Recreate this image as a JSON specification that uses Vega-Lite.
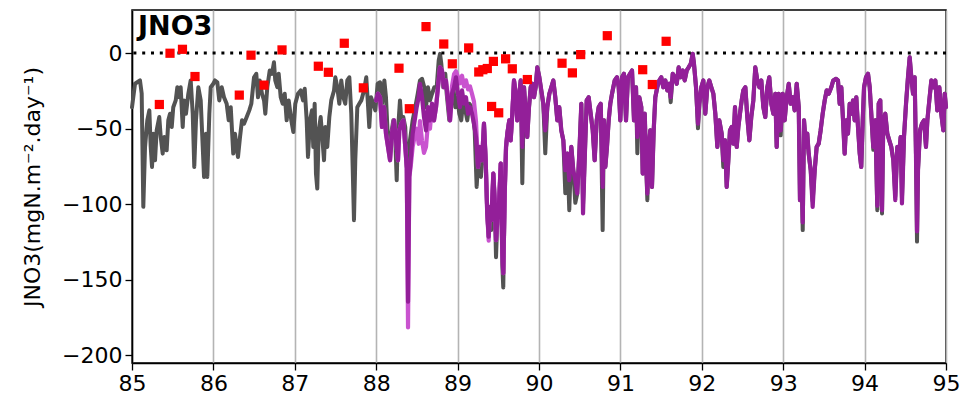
{
  "$schema": "https://vega.github.io/schema/vega-lite/v6.json",
  "width": 814,
  "height": 353,
  "autosize": {"type": "none"},
  "padding": {"left": 132, "top": 10, "right": 15, "bottom": 41},
  "config": {
    "font": "DejaVu Sans",
    "view": {"stroke": "black", "strokeWidth": 1.5},
    "axis": {
      "labelFont": "DejaVu Sans",
      "labelFontSize": 22,
      "labelColor": "black",
      "tickColor": "black",
      "tickSize": 7,
      "tickWidth": 1.3,
      "domainColor": "black",
      "domainWidth": 1.5,
      "titleFont": "DejaVu Sans",
      "titleFontWeight": "normal",
      "titleColor": "black"
    }
  },
  "datasets": {
    "series": [
      {"t":85.0,"g":-35.8},{"t":85.037,"g":-20.3},{"t":85.098,"g":-18.1},{"t":85.119,"g":-26.7},{"t":85.139,"g":-101.7},{"t":85.16,"g":-62.1},{"t":85.188,"g":-44.5},{"t":85.213,"g":-37.9},{"t":85.23,"g":-62.1},{"t":85.246,"g":-75.3},{"t":85.262,"g":-53.3},{"t":85.283,"g":-70.9},{"t":85.303,"g":-51.1},{"t":85.335,"g":-42.3},{"t":85.353,"g":-55.5},{"t":85.377,"g":-66.5},{"t":85.397,"g":-55.5},{"t":85.426,"g":-64.3},{"t":85.446,"g":-44.5},{"t":85.467,"g":-40.1},{"t":85.488,"g":-48.9},{"t":85.507,"g":-35.8},{"t":85.537,"g":-31.3},{"t":85.557,"g":-22.6},{"t":85.581,"g":-29.2},{"t":85.598,"g":-22.6},{"t":85.623,"g":-48.9},{"t":85.639,"g":-31.3},{"t":85.663,"g":-40.1},{"t":85.692,"g":-26.9},{"t":85.721,"g":-18.1},{"t":85.746,"g":-40.1},{"t":85.765,"g":-75.3},{"t":85.786,"g":-44.5},{"t":85.815,"g":-22.6},{"t":85.844,"g":-31.3},{"t":85.869,"g":-62.1},{"t":85.885,"g":-81.9},{"t":85.909,"g":-53.3},{"t":85.925,"g":-81.9},{"t":85.95,"g":-40.1},{"t":85.967,"g":-22.6},{"t":85.999,"g":-20.3},{"t":86.02,"g":-18.1},{"t":86.048,"g":-19.3},{"t":86.072,"g":-31.3},{"t":86.102,"g":-22.6},{"t":86.13,"g":-29.2},{"t":86.163,"g":-33.5},{"t":86.188,"g":-44.5},{"t":86.213,"g":-35.8},{"t":86.244,"g":-66.5},{"t":86.265,"g":-53.3},{"t":86.302,"g":-68.7},{"t":86.327,"g":-55.5},{"t":86.351,"g":-44.5},{"t":86.376,"g":-46.7},{"t":86.409,"g":-42.3},{"t":86.441,"g":-37.9},{"t":86.466,"g":-33.5},{"t":86.499,"g":-16.0},{"t":86.527,"g":-13.7},{"t":86.548,"g":-29.2},{"t":86.569,"g":-18.1},{"t":86.597,"g":-26.9},{"t":86.622,"g":-31.3},{"t":86.638,"g":-40.1},{"t":86.662,"g":-22.6},{"t":86.692,"g":-11.5},{"t":86.72,"g":-13.7},{"t":86.744,"g":-6.1},{"t":86.76,"g":-18.1},{"t":86.785,"g":-22.6},{"t":86.802,"g":-13.7},{"t":86.827,"g":-29.2},{"t":86.851,"g":-33.5},{"t":86.876,"g":-26.9},{"t":86.9,"g":-44.5},{"t":86.925,"g":-31.3},{"t":86.957,"g":-44.5},{"t":86.982,"g":-52.2},{"t":87.006,"g":-33.5},{"t":87.039,"g":-26.9},{"t":87.072,"g":-24.7},{"t":87.101,"g":-31.3},{"t":87.122,"g":-23.6},{"t":87.146,"g":-44.5},{"t":87.162,"g":-68.7},{"t":87.187,"g":-44.5},{"t":87.211,"g":-37.9},{"t":87.227,"g":-62.1},{"t":87.244,"g":-33.5},{"t":87.26,"g":-79.7},{"t":87.276,"g":-89.6},{"t":87.294,"g":-51.1},{"t":87.318,"g":-42.3},{"t":87.334,"g":-53.3},{"t":87.359,"g":-70.9},{"t":87.375,"g":-48.9},{"t":87.399,"g":-62.1},{"t":87.424,"g":-42.3},{"t":87.448,"g":-31.3},{"t":87.482,"g":-24.7},{"t":87.498,"g":-16.0},{"t":87.522,"g":-22.6},{"t":87.547,"g":-33.5},{"t":87.571,"g":-18.1},{"t":87.596,"g":-29.2},{"t":87.62,"g":-33.5},{"t":87.645,"g":-18.1},{"t":87.67,"g":-16.0},{"t":87.694,"g":-40.1},{"t":87.711,"g":-75.3},{"t":87.727,"g":-110.5},{"t":87.743,"g":-70.9},{"t":87.768,"g":-35.8},{"t":87.792,"g":-33.5},{"t":87.817,"g":-31.3},{"t":87.85,"g":-24.7},{"t":87.878,"g":-16.0},{"t":87.896,"g":-31.3},{"t":87.915,"g":-48.9},{"t":87.936,"g":-29.2},{"t":87.964,"g":-33.5},{"t":87.989,"g":-37.9},{"t":88.018,"g":-20.3},{"t":88.047,"g":-19.3},{"t":88.071,"g":-33.5},{"t":88.1,"g":-18.1},{"t":88.12,"g":-29.2},{"t":88.141,"g":-53.3},{"t":88.161,"g":-66.5},{"t":88.185,"g":-53.3},{"t":88.21,"g":-44.5},{"t":88.235,"g":-57.7},{"t":88.252,"g":-84.1},{"t":88.268,"g":-51.1},{"t":88.292,"g":-31.3},{"t":88.308,"g":-44.5},{"t":88.333,"g":-42.3},{"t":88.357,"g":-48.9},{"t":88.375,"g":-75.3},{"t":88.391,"g":-77.5},{"t":88.415,"g":-57.7},{"t":88.448,"g":-44.5},{"t":88.48,"g":-35.8},{"t":88.51,"g":-26.9},{"t":88.538,"g":-18.1},{"t":88.563,"g":-17.0},{"t":88.591,"g":-22.6},{"t":88.612,"g":-35.8},{"t":88.636,"g":-22.6},{"t":88.661,"g":-31.3},{"t":88.686,"g":-26.9},{"t":88.714,"g":-22.6},{"t":88.743,"g":-22.6},{"t":88.768,"g":-4.9},{"t":88.784,"g":-0.5},{"t":88.8,"g":-7.1},{"t":88.824,"g":-22.6},{"t":88.849,"g":-13.7},{"t":88.866,"g":-26.9},{"t":88.898,"g":-44.5},{"t":88.923,"g":-31.3},{"t":88.947,"g":-22.6},{"t":88.972,"g":-35.8},{"t":88.996,"g":-29.2},{"t":89.021,"g":-40.1},{"t":89.045,"g":-44.5},{"t":89.07,"g":-31.3},{"t":89.095,"g":-37.9},{"t":89.119,"g":-44.5},{"t":89.144,"g":-33.5},{"t":89.177,"g":-35.8},{"t":89.21,"g":-51.1},{"t":89.234,"g":-88.5},{"t":89.259,"g":-66.5},{"t":89.287,"g":-81.9},{"t":89.316,"g":-57.7},

      {"t":88.0,"p":-31.3,"l":-31.3},{"t":88.022,"p":-26.9,"l":-26.9},{"t":88.047,"p":-29.2,"l":-29.2},{"t":88.071,"p":-48.9,"l":-48.9},{"t":88.096,"p":-35.8,"l":-35.8},{"t":88.12,"p":-53.3,"l":-53.3},{"t":88.145,"p":-62.1,"l":-62.1},{"t":88.17,"p":-70.9,"l":-70.9},{"t":88.194,"p":-53.3,"l":-53.3},{"t":88.219,"p":-44.5,"l":-44.5},{"t":88.243,"p":-57.7,"l":-57.7},{"t":88.268,"p":-70.9,"l":-70.9},{"t":88.284,"p":-51.1,"l":-51.1},{"t":88.308,"p":-46.7,"l":-46.7},{"t":88.333,"p":-44.5,"l":-44.5},{"t":88.357,"p":-62.1,"l":-62.1},{"t":88.375,"p":-75.3,"l":-75.3},{"t":88.391,"p":-164.4,"l":-181.5},{"t":88.407,"p":-81.9,"l":-81.9},{"t":88.424,"p":-70.9,"l":-75.0},{"t":88.448,"p":-53.3,"l":-62.0},{"t":88.473,"p":-44.5,"l":-55.0},{"t":88.497,"p":-35.8,"l":-50.0},{"t":88.522,"p":-29.2,"l":-60.0},{"t":88.538,"p":-20.3,"l":-45.0},{"t":88.563,"p":-29.2,"l":-58.0},{"t":88.587,"p":-42.3,"l":-66.0},{"t":88.612,"p":-51.1,"l":-62.0},{"t":88.636,"p":-35.8,"l":-46.0},{"t":88.661,"p":-44.5,"l":-50.0},{"t":88.686,"p":-33.5,"l":-33.5},{"t":88.71,"p":-44.5,"l":-44.5},{"t":88.735,"p":-35.8,"l":-35.8},{"t":88.759,"p":-22.6,"l":-22.6},{"t":88.784,"p":-9.4,"l":-9.4},{"t":88.808,"p":-11.5,"l":-11.5},{"t":88.833,"p":-22.6,"l":-22.6},{"t":88.857,"p":-18.1,"l":-18.1},{"t":88.882,"p":-31.3,"l":-31.3},{"t":88.907,"p":-44.5,"l":-44.5},{"t":88.931,"p":-26.9,"l":-22.0},{"t":88.956,"p":-22.6,"l":-14.0},{"t":88.98,"p":-16.0,"l":-12.0},{"t":89.005,"p":-26.9,"l":-16.0},{"t":89.029,"p":-35.8,"l":-20.0},{"t":89.054,"p":-24.7,"l":-15.0},{"t":89.079,"p":-33.5,"l":-22.0},{"t":89.103,"p":-29.2,"l":-18.0},{"t":89.128,"p":-40.1,"l":-24.0},{"t":89.152,"p":-35.8,"l":-22.0},{"t":89.177,"p":-40.1,"l":-27.0},{"t":89.201,"p":-46.7,"l":-32.0},{"t":89.226,"p":-55.5,"l":-45.0},{"t":89.251,"p":-75.3,"l":-75.3},{"t":89.275,"p":-62.1,"l":-62.1},{"t":89.3,"p":-70.9,"l":-70.9},

      {"t":89.324,"p":-46.7,"g":-46.7,"l":-46.7},{"t":89.345,"p":-70.9,"g":-70.9,"l":-70.9},{"t":89.364,"p":-106.1,"g":-106.1,"l":-106.1},{"t":89.382,"p":-121.5,"g":-121.5,"l":-124.0},{"t":89.398,"p":-101.7,"g":-101.7,"l":-101.7},{"t":89.414,"p":-110.5,"g":-117.0,"l":-110.5},{"t":89.439,"p":-79.7,"g":-79.7,"l":-79.7},{"t":89.456,"p":-97.3,"g":-97.3,"l":-97.3},{"t":89.472,"p":-123.7,"g":-135.0,"l":-123.7},{"t":89.488,"p":-110.5,"g":-110.5,"l":-110.5},{"t":89.509,"p":-99.5,"g":-99.5,"l":-99.5},{"t":89.53,"p":-73.1,"g":-73.1,"l":-73.1},{"t":89.549,"p":-132.4,"g":-140.0,"l":-132.4},{"t":89.561,"p":-145.6,"g":-155.0,"l":-145.6},{"t":89.579,"p":-92.9,"g":-92.9,"l":-92.9},{"t":89.595,"p":-62.1,"g":-62.1,"l":-62.1},{"t":89.611,"p":-53.3,"g":-53.3,"l":-53.3},{"t":89.635,"p":-44.5,"g":-44.5,"l":-44.5},{"t":89.652,"p":-57.7,"g":-57.7,"l":-57.7},{"t":89.672,"p":-40.1,"g":-40.1,"l":-40.1},{"t":89.693,"p":-18.1,"g":-18.1,"l":-18.1},{"t":89.714,"p":-26.9,"g":-26.9,"l":-26.9},{"t":89.733,"p":-44.5,"g":-44.5,"l":-44.5},{"t":89.754,"p":-29.2,"g":-29.2,"l":-29.2},
      {"t":89.775,"p":-18.1,"g":-18.1},{"t":89.795,"p":-62.1,"g":-86.1},{"t":89.816,"p":-22.6,"g":-22.6},{"t":89.837,"p":-40.1,"g":-40.1},{"t":89.856,"p":-55.5,"g":-55.5},{"t":89.877,"p":-35.8,"g":-35.8},{"t":89.898,"p":-22.6,"g":-22.6},{"t":89.918,"p":-20.3,"g":-20.3},{"t":89.939,"p":-29.2,"g":-29.2},{"t":89.959,"p":-22.6,"g":-22.6},{"t":89.979,"p":-9.4,"g":-9.4},{"t":90.004,"p":-16.0,"g":-16.0},{"t":90.028,"p":-24.7,"g":-24.7},{"t":90.053,"p":-33.5,"g":-33.5},{"t":90.077,"p":-51.1,"g":-66.3},{"t":90.102,"p":-35.8,"g":-35.8},{"t":90.127,"p":-26.9,"g":-26.9},{"t":90.151,"p":-22.6,"g":-22.6},{"t":90.176,"p":-18.1,"g":-18.1},{"t":90.2,"p":-29.2,"g":-29.2},{"t":90.225,"p":-44.5,"g":-44.5},{"t":90.249,"p":-35.8,"g":-35.8},{"t":90.274,"p":-51.1,"g":-51.1},{"t":90.299,"p":-57.7,"g":-57.7},{"t":90.323,"p":-77.5,"g":-92.7},{"t":90.348,"p":-66.5,"g":-66.5},{"t":90.372,"p":-84.1,"g":-103.9},{"t":90.397,"p":-62.1,"g":-62.1},{"t":90.421,"p":-77.5,"g":-77.5},{"t":90.446,"p":-84.1,"g":-99.0},{"t":90.47,"p":-92.9,"g":-92.9},{"t":90.495,"p":-66.5,"g":-66.5},{"t":90.52,"p":-33.5,"g":-33.5},{"t":90.541,"p":-106.1,"g":-100.0},{"t":90.561,"p":-70.9,"g":-70.9},{"t":90.586,"p":-31.3,"g":-31.3},{"t":90.61,"p":-29.2,"g":-29.2},{"t":90.635,"p":-40.1,"g":-40.1},{"t":90.66,"p":-51.1,"g":-51.1},{"t":90.684,"p":-70.9,"g":-70.9},{"t":90.709,"p":-44.5,"g":-44.5},{"t":90.733,"p":-35.8,"g":-35.8},{"t":90.758,"p":-33.5,"g":-33.5},{"t":90.782,"p":-88.5,"g":-117.1},{"t":90.798,"p":-44.5,"g":-44.5},{"t":90.815,"p":-75.3,"g":-75.3},{"t":90.835,"p":-62.1,"g":-62.1},{"t":90.856,"p":-44.5,"g":-44.5},{"t":90.876,"p":-33.5,"g":-33.5},{"t":90.897,"p":-26.9,"g":-26.9},{"t":90.93,"p":-18.1,"g":-18.1},{"t":90.958,"p":-16.0,"g":-16.0},{"t":90.979,"p":-22.6,"g":-22.6},{"t":90.999,"p":-44.5,"g":-44.5},{"t":91.02,"p":-16.0,"g":-16.0},{"t":91.044,"p":-13.7,"g":-13.7},{"t":91.069,"p":-44.5,"g":-44.5},{"t":91.093,"p":-16.0,"g":-16.0},{"t":91.118,"p":-13.7,"g":-13.7},{"t":91.143,"p":-11.5,"g":-11.5},{"t":91.167,"p":-44.5,"g":-44.5},{"t":91.192,"p":-22.6,"g":-22.6},{"t":91.208,"p":-55.5,"g":-66.3},{"t":91.232,"p":-29.2,"g":-29.2},{"t":91.257,"p":-35.8,"g":-35.8},{"t":91.274,"p":-79.7,"g":-79.7},{"t":91.299,"p":-40.1,"g":-40.1},{"t":91.315,"p":-70.9,"g":-70.9},{"t":91.331,"p":-92.9,"g":-97.3},{"t":91.348,"p":-62.1,"g":-62.1},{"t":91.367,"p":-51.1,"g":-51.1},{"t":91.388,"p":-88.5,"g":-88.5},{"t":91.409,"p":-51.1,"g":-51.1},{"t":91.429,"p":-29.2,"g":-29.2},{"t":91.453,"p":-22.6,"g":-22.6},{"t":91.478,"p":-18.1,"g":-18.1},{"t":91.502,"p":-16.0,"g":-16.0},{"t":91.527,"p":-22.6,"g":-22.6},{"t":91.552,"p":-18.1,"g":-18.1},{"t":91.576,"p":-24.7,"g":-24.7},{"t":91.601,"p":-20.3,"g":-20.3},{"t":91.618,"p":-29.2,"g":-32.5},{"t":91.643,"p":-13.7,"g":-13.7},{"t":91.667,"p":-16.0,"g":-16.0},{"t":91.692,"p":-20.3,"g":-20.3},{"t":91.716,"p":-9.4,"g":-9.4},{"t":91.741,"p":-16.0,"g":-16.0},{"t":91.765,"p":-11.5,"g":-11.5},{"t":91.79,"p":-18.1,"g":-18.1},{"t":91.815,"p":-11.5,"g":-11.5},{"t":91.839,"p":-9.4,"g":-9.4},{"t":91.864,"p":-7.1,"g":-7.1},{"t":91.888,"p":-0.5,"g":-0.5},{"t":91.904,"p":-7.1,"g":-7.1},{"t":91.929,"p":-22.6,"g":-22.6},{"t":91.953,"p":-46.7,"g":-49.8},{"t":91.97,"p":-33.5,"g":-33.5},{"t":91.994,"p":-22.6,"g":-22.6},{"t":92.019,"p":-18.1,"g":-18.1},{"t":92.043,"p":-40.1,"g":-40.1},{"t":92.068,"p":-22.6,"g":-22.6},{"t":92.092,"p":-18.1,"g":-18.1},{"t":92.117,"p":-22.6,"g":-22.6},{"t":92.142,"p":-26.9,"g":-26.9},{"t":92.166,"p":-40.1,"g":-40.1},{"t":92.191,"p":-62.1,"g":-62.1},{"t":92.215,"p":-44.5,"g":-44.5},{"t":92.244,"p":-53.3,"g":-53.3},{"t":92.264,"p":-70.9,"g":-75.3},{"t":92.285,"p":-57.7,"g":-57.7},{"t":92.306,"p":-88.5,"g":-88.5},{"t":92.326,"p":-70.9,"g":-70.9},{"t":92.346,"p":-51.1,"g":-51.1},{"t":92.367,"p":-48.9,"g":-48.9},{"t":92.387,"p":-59.9,"g":-59.9},{"t":92.408,"p":-35.8,"g":-35.8},{"t":92.429,"p":-62.1,"g":-62.1},{"t":92.449,"p":-48.9,"g":-48.9},{"t":92.469,"p":-40.1,"g":-40.1},{"t":92.49,"p":-31.3,"g":-31.3},{"t":92.51,"p":-24.7,"g":-24.7},{"t":92.535,"p":-22.6,"g":-22.6},{"t":92.559,"p":-42.3,"g":-42.3},{"t":92.584,"p":-57.7,"g":-57.7},{"t":92.608,"p":-42.3,"g":-42.3},{"t":92.633,"p":-31.3,"g":-31.3},{"t":92.657,"p":-9.4,"g":-9.4},{"t":92.682,"p":-18.1,"g":-18.1},{"t":92.707,"p":-22.6,"g":-22.6},{"t":92.731,"p":-18.1,"g":-18.1},{"t":92.756,"p":-35.8,"g":-35.8},{"t":92.78,"p":-42.3,"g":-42.3},{"t":92.805,"p":-22.6,"g":-22.6},{"t":92.829,"p":-16.0,"g":-16.0},{"t":92.854,"p":-33.5,"g":-33.5},{"t":92.879,"p":-40.1,"g":-40.1},{"t":92.903,"p":-26.9,"g":-26.9},{"t":92.92,"p":-62.1,"g":-62.1},{"t":92.945,"p":-26.9,"g":-26.9},{"t":92.969,"p":-51.1,"g":-54.4},{"t":92.994,"p":-26.9,"g":-26.9},{"t":93.018,"p":-44.5,"g":-44.5},{"t":93.043,"p":-29.2,"g":-29.2},{"t":93.068,"p":-20.3,"g":-20.3},{"t":93.092,"p":-33.5,"g":-33.5},{"t":93.117,"p":-29.2,"g":-29.2},{"t":93.141,"p":-37.9,"g":-37.9},{"t":93.166,"p":-20.3,"g":-20.3},{"t":93.191,"p":-35.8,"g":-35.8},{"t":93.206,"p":-97.3,"g":-97.3},{"t":93.222,"p":-70.9,"g":-70.9},{"t":93.24,"p":-112.0,"g":-117.1},{"t":93.256,"p":-44.5,"g":-44.5},{"t":93.28,"p":-62.1,"g":-62.1},{"t":93.296,"p":-53.3,"g":-53.3},{"t":93.313,"p":-66.5,"g":-66.5},{"t":93.338,"p":-77.5,"g":-77.5},{"t":93.362,"p":-101.7,"g":-98.0},{"t":93.387,"p":-77.5,"g":-77.5},{"t":93.411,"p":-62.1,"g":-62.1},{"t":93.436,"p":-59.9,"g":-59.9},{"t":93.46,"p":-51.1,"g":-51.1},{"t":93.485,"p":-40.1,"g":-40.1},{"t":93.51,"p":-31.3,"g":-31.3},{"t":93.534,"p":-24.7,"g":-24.7},{"t":93.559,"p":-26.9,"g":-26.9},{"t":93.591,"p":-22.6,"g":-22.6},{"t":93.615,"p":-18.1,"g":-18.1},{"t":93.649,"p":-17.0,"g":-17.0},{"t":93.673,"p":-18.1,"g":-18.1},{"t":93.694,"p":-33.5,"g":-33.5},{"t":93.714,"p":-22.6,"g":-22.6},{"t":93.735,"p":-44.5,"g":-44.5},{"t":93.755,"p":-66.5,"g":-66.5},{"t":93.775,"p":-44.5,"g":-44.5},{"t":93.796,"p":-53.3,"g":-53.3},{"t":93.817,"p":-33.5,"g":-33.5},{"t":93.837,"p":-40.1,"g":-40.1},{"t":93.857,"p":-31.3,"g":-31.3},{"t":93.878,"p":-44.5,"g":-44.5},{"t":93.898,"p":-29.2,"g":-29.2},{"t":93.919,"p":-48.9,"g":-48.9},{"t":93.94,"p":-66.5,"g":-66.5},{"t":93.959,"p":-75.3,"g":-75.3},{"t":93.977,"p":-44.5,"g":-44.5},{"t":93.993,"p":-22.6,"g":-22.6},{"t":94.017,"p":-16.0,"g":-16.0},{"t":94.042,"p":-13.7,"g":-13.7},{"t":94.063,"p":-22.6,"g":-22.6},{"t":94.082,"p":-40.1,"g":-40.1},{"t":94.107,"p":-62.1,"g":-64.0},{"t":94.132,"p":-44.5,"g":-44.5},{"t":94.156,"p":-101.0,"g":-103.9},{"t":94.173,"p":-33.5,"g":-33.5},{"t":94.193,"p":-31.3,"g":-31.3},{"t":94.214,"p":-104.0,"g":-106.1},{"t":94.23,"p":-44.5,"g":-44.5},{"t":94.254,"p":-40.1,"g":-40.1},{"t":94.279,"p":-53.3,"g":-53.3},{"t":94.303,"p":-57.7,"g":-57.7},{"t":94.328,"p":-62.1,"g":-62.1},{"t":94.353,"p":-70.9,"g":-70.9},{"t":94.377,"p":-97.3,"g":-95.0},{"t":94.402,"p":-62.1,"g":-62.1},{"t":94.426,"p":-66.5,"g":-66.5},{"t":94.443,"p":-55.5,"g":-55.5},{"t":94.459,"p":-99.5,"g":-96.0},{"t":94.484,"p":-55.5,"g":-55.5},{"t":94.509,"p":-33.5,"g":-33.5},{"t":94.533,"p":-16.0,"g":-16.0},{"t":94.554,"p":-2.8,"g":-2.8},{"t":94.574,"p":-16.0,"g":-16.0},{"t":94.595,"p":-26.9,"g":-26.9},{"t":94.615,"p":-16.0,"g":-16.0},{"t":94.631,"p":-66.5,"g":-66.5},{"t":94.644,"p":-118.0,"g":-124.7},{"t":94.656,"p":-77.5,"g":-77.5},{"t":94.681,"p":-51.1,"g":-51.1},{"t":94.705,"p":-46.7,"g":-46.7},{"t":94.73,"p":-44.5,"g":-44.5},{"t":94.754,"p":-62.1,"g":-62.1},{"t":94.771,"p":-44.5,"g":-44.5},{"t":94.795,"p":-31.3,"g":-31.3},{"t":94.82,"p":-18.1,"g":-18.1},{"t":94.844,"p":-22.6,"g":-22.6},{"t":94.869,"p":-18.1,"g":-18.1},{"t":94.893,"p":-37.9,"g":-37.9},{"t":94.918,"p":-22.6,"g":-22.6},{"t":94.942,"p":-40.1,"g":-40.1},{"t":94.967,"p":-51.1,"g":-51.1},{"t":94.984,"p":-26.9,"g":-26.9},{"t":95.0,"p":-35.8,"g":-35.8}
    ],
    "obs": [
      {"t":85.336,"v":-34.0},{"t":85.467,"v":-0.1},{"t":85.62,"v":2.5},{"t":85.774,"v":-15.5},{"t":86.318,"v":-27.8},{"t":86.462,"v":-1.4},{"t":86.622,"v":-21.2},{"t":86.843,"v":2.1},{"t":87.289,"v":-8.7},{"t":87.412,"v":-12.7},{"t":87.608,"v":6.5},{"t":87.842,"v":-23.0},{"t":88.28,"v":-10.0},{"t":88.407,"v":-36.8},{"t":88.612,"v":17.5},{"t":88.83,"v":6.0},{"t":88.935,"v":-7.1},{"t":89.136,"v":3.4},{"t":89.26,"v":-12.5},{"t":89.31,"v":-11.0},{"t":89.365,"v":-10.2},{"t":89.44,"v":-5.5},{"t":89.418,"v":-35.3},{"t":89.505,"v":-39.5},{"t":89.59,"v":-3.8},{"t":89.672,"v":-10.4},{"t":89.857,"v":-17.5},{"t":90.283,"v":-6.7},{"t":90.41,"v":-13.1},{"t":90.512,"v":-1.0},{"t":90.839,"v":11.5},{"t":91.274,"v":-11.0},{"t":91.392,"v":-20.8},{"t":91.562,"v":7.8}
    ],
    "zero": [{"v": 0}],
    "label": [{"t": 85.074, "v": 12, "name": "JNO3"}]
  },
  "layer": [
    {
      "data": {"name": "series"},
      "transform": [{"fold": ["g"], "as": ["s", "v"]}, {"filter": "isValid(datum.v)"}],
      "mark": {"type": "line", "color": "#535353", "strokeWidth": 4, "strokeJoin": "round", "strokeCap": "round"},
      "encoding": {
        "x": {
          "field": "t", "type": "quantitative",
          "scale": {"domain": [85, 95], "nice": false, "zero": false},
          "axis": {"values": [85, 86, 87, 88, 89, 90, 91, 92, 93, 94, 95], "format": "d", "title": null, "grid": true, "gridColor": "#b4b4b4", "gridWidth": 1.6, "labelPadding": 3, "labelFlush": false}
        },
        "y": {
          "field": "v", "type": "quantitative",
          "scale": {"domain": [-205, 28.5], "nice": false, "zero": false},
          "axis": {"values": [-200, -150, -100, -50, 0], "format": "d", "grid": false, "title": "JNO3(mgN.m⁻².day⁻¹)", "titleFontSize": 22, "titlePadding": 17, "labelPadding": 3}
        }
      }
    },
    {
      "data": {"name": "series"},
      "transform": [{"fold": ["l"], "as": ["s", "v"]}, {"filter": "isValid(datum.v)"}],
      "mark": {"type": "line", "color": "#c953cf", "strokeWidth": 4.2, "strokeJoin": "round", "strokeCap": "round"},
      "encoding": {
        "x": {"field": "t", "type": "quantitative"},
        "y": {"field": "v", "type": "quantitative"}
      }
    },
    {
      "data": {"name": "series"},
      "transform": [{"fold": ["p"], "as": ["s", "v"]}, {"filter": "isValid(datum.v)"}],
      "mark": {"type": "line", "color": "#931f99", "strokeWidth": 4.2, "strokeJoin": "round", "strokeCap": "round"},
      "encoding": {
        "x": {"field": "t", "type": "quantitative"},
        "y": {"field": "v", "type": "quantitative"}
      }
    },
    {
      "data": {"name": "zero"},
      "mark": {"type": "rule", "color": "black", "strokeWidth": 3, "strokeDash": [3, 5.8], "strokeCap": "butt"},
      "encoding": {"y": {"field": "v", "type": "quantitative"}}
    },
    {
      "data": {"name": "obs"},
      "mark": {"type": "square", "color": "#ff0000", "filled": true, "size": 85, "opacity": 1},
      "encoding": {
        "x": {"field": "t", "type": "quantitative"},
        "y": {"field": "v", "type": "quantitative"}
      }
    },
    {
      "data": {"name": "label"},
      "mark": {"type": "text", "align": "left", "baseline": "alphabetic", "font": "DejaVu Sans", "fontSize": 27, "fontWeight": "bold", "color": "black"},
      "encoding": {
        "x": {"field": "t", "type": "quantitative"},
        "y": {"field": "v", "type": "quantitative"},
        "text": {"field": "name"}
      }
    }
  ]
}
